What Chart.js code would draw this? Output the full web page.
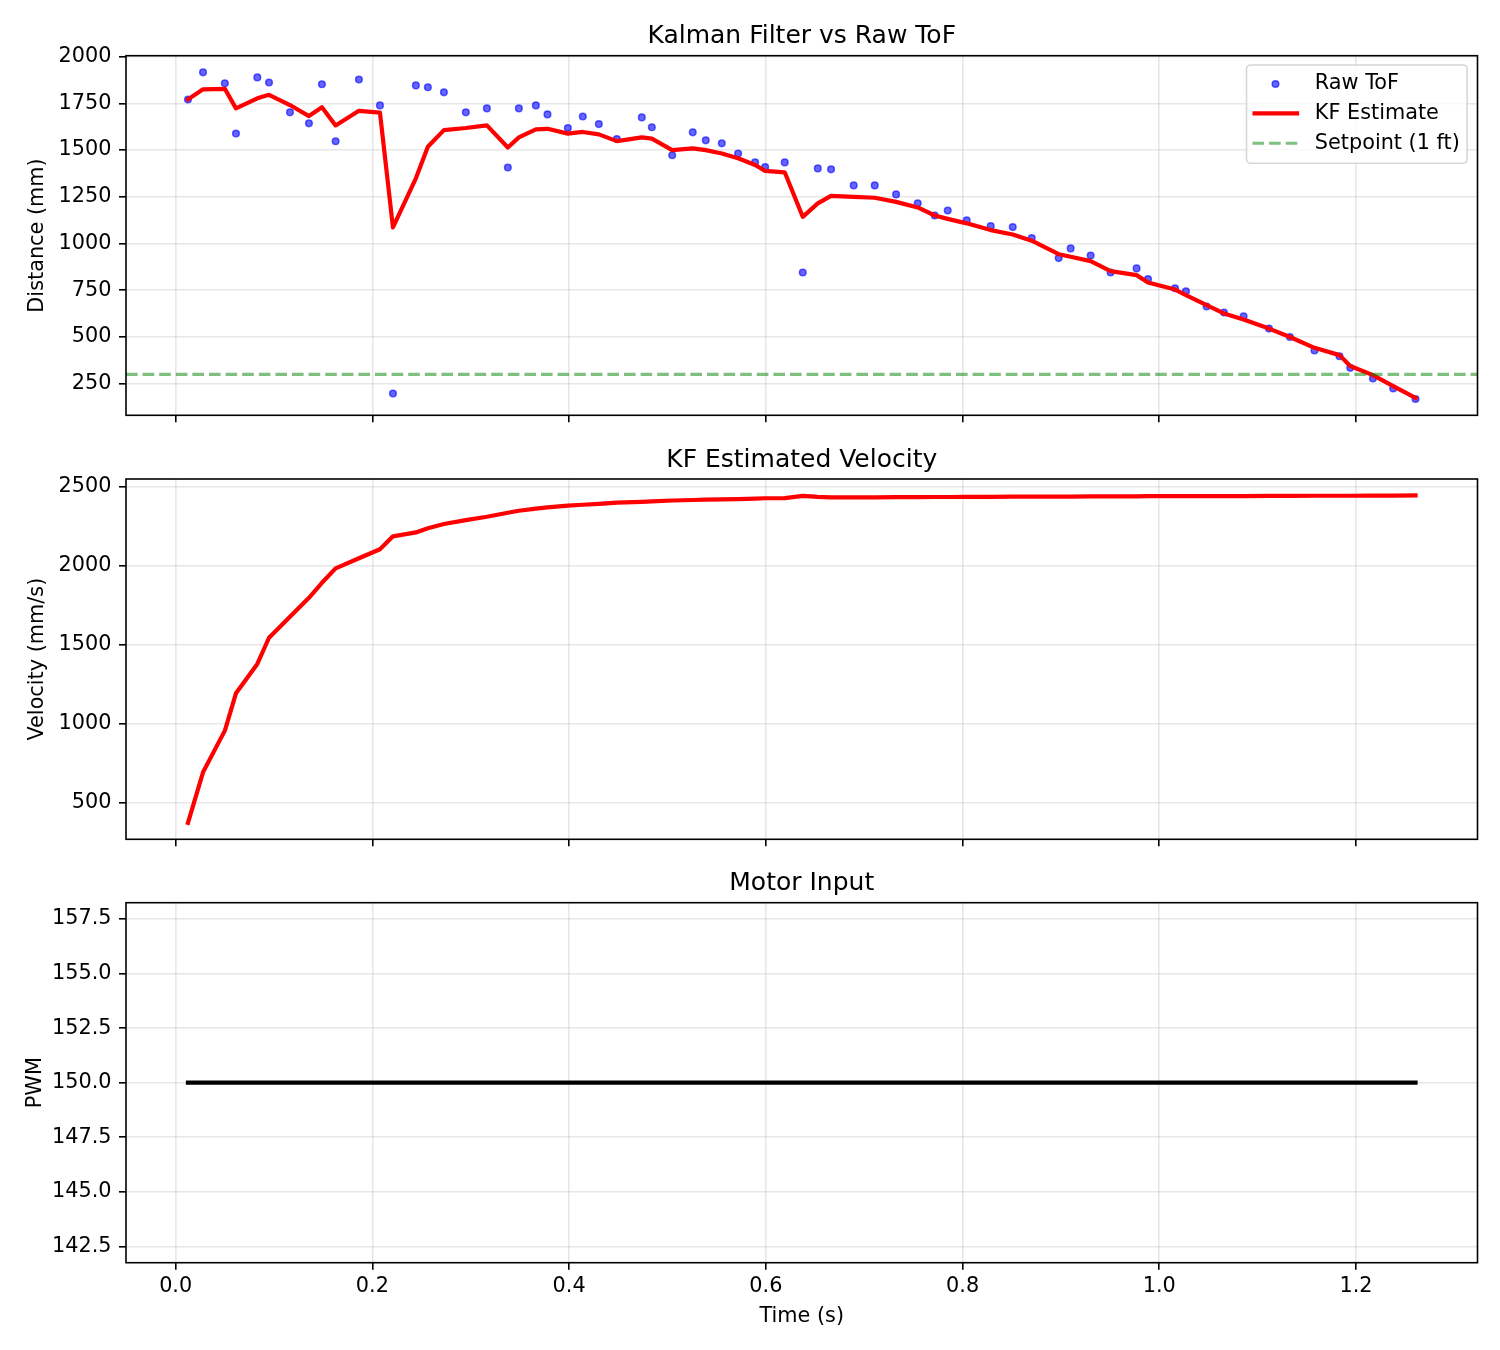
<!DOCTYPE html>
<html>
<head>
<meta charset="utf-8">
<script src="https://cdn.jsdelivr.net/npm/chart.js@4.4.1/dist/chart.umd.min.js"></script>
<style>
  html, body { margin: 0; padding: 0; background: #fff; }
  #wrap { position: relative; width: 1500px; height: 1350px; background: #fff; }
  #wrap canvas { position: absolute; left: 0; top: 0; width: 1500px; height: 1350px; }
</style>
</head>
<body>
<div id="wrap">
  <canvas id="c1" width="1500" height="1350"></canvas>
  <canvas id="c2" width="1500" height="1350"></canvas>
  <canvas id="c3" width="1500" height="1350"></canvas>
</div>
<script>
// ---------------- DATA ----------------
const time = [
  0.0125, 0.0278, 0.0500, 0.0613, 0.0830, 0.0949, 0.1162, 0.1355, 0.1487, 0.1626,
  0.1863, 0.2077, 0.2209, 0.2442, 0.2564, 0.2727, 0.2950, 0.3164, 0.3377, 0.3489,
  0.3662, 0.3780, 0.3987, 0.4139, 0.4302, 0.4485, 0.4739, 0.4841, 0.5048, 0.5257,
  0.5389, 0.5552, 0.5718, 0.5891, 0.5993, 0.6192, 0.6375, 0.6528, 0.6663, 0.6893,
  0.7107, 0.7324, 0.7544, 0.7717, 0.7849, 0.8042, 0.8286, 0.8510, 0.8703, 0.8977,
  0.9099, 0.9302, 0.9505, 0.9769, 0.9885, 1.0160, 1.0271, 1.0481, 1.0657, 1.0857,
  1.1115, 1.1328, 1.1578, 1.1832, 1.1941, 1.2172, 1.2378, 1.2605
];
const rawTof = [
  1771, 1916, 1857, 1589, 1889, 1862, 1702, 1643, 1852, 1547,
  1878, 1739, 198, 1846, 1836, 1809, 1702, 1723, 1407, 1723,
  1739, 1691, 1618, 1680, 1639, 1559, 1675, 1622, 1472, 1595,
  1552, 1536, 1482, 1434, 1409, 1434, 845, 1402, 1397, 1311,
  1311, 1263, 1215, 1150, 1177, 1124, 1093, 1088, 1029, 922,
  974, 936, 845, 867, 810, 761, 745, 663, 631, 611,
  545, 500, 428, 397, 335, 278, 224, 168
];
const kfDistance = [
  1771, 1825, 1828, 1723, 1777, 1796, 1741, 1682, 1729, 1632,
  1710, 1700, 1086, 1349, 1518, 1607, 1618, 1632, 1514, 1568,
  1611, 1614, 1588, 1597, 1584, 1548, 1568, 1561, 1500, 1509,
  1500, 1482, 1456, 1420, 1389, 1381, 1143, 1215, 1255, 1250,
  1245, 1223, 1193, 1150, 1132, 1108, 1072, 1048, 1015, 943,
  929, 906, 852, 831, 792, 754, 724, 670, 626, 594,
  545, 500, 442, 403, 345, 296, 237, 174
];
const kfVelocity = [
  372, 692, 956, 1192, 1378, 1544, 1677, 1797, 1892, 1983,
  2047, 2104, 2186, 2211, 2237, 2264, 2289, 2310, 2335, 2348,
  2361, 2369, 2380, 2386, 2392, 2399, 2404, 2407, 2413, 2416,
  2418, 2420, 2422, 2425, 2427, 2428, 2442, 2436, 2433, 2433,
  2433, 2434, 2434, 2435, 2435, 2436, 2436, 2437, 2437, 2438,
  2438, 2439, 2439, 2439, 2440, 2440, 2440, 2441, 2441, 2441,
  2442, 2442, 2443, 2443, 2443, 2444, 2444, 2445
];
const pwm = [
  150, 150, 150, 150, 150, 150, 150, 150, 150, 150,
  150, 150, 150, 150, 150, 150, 150, 150, 150, 150,
  150, 150, 150, 150, 150, 150, 150, 150, 150, 150,
  150, 150, 150, 150, 150, 150, 150, 150, 150, 150,
  150, 150, 150, 150, 150, 150, 150, 150, 150, 150,
  150, 150, 150, 150, 150, 150, 150, 150, 150, 150,
  150, 150, 150, 150, 150, 150, 150, 150
];
const setpointMm = 300;

const xTicks = [0.0, 0.2, 0.4, 0.6, 0.8, 1.0, 1.2];
const distTicks = [250, 500, 750, 1000, 1250, 1500, 1750, 2000];
const velTicks = [500, 1000, 1500, 2000, 2500];
const pwmTicks = [142.5, 145.0, 147.5, 150.0, 152.5, 155.0, 157.5];

const xRange = [-0.0505, 1.3235];
const distRange = [81, 2005];
const velRange = [268, 2549];
const pwmRange = [141.75, 158.25];

const titles = ['Kalman Filter vs Raw ToF', 'KF Estimated Velocity', 'Motor Input'];
const legendLabels = ['Raw ToF', 'KF Estimate', 'Setpoint (1 ft)'];

// ---------------- STYLE ----------------
const FONT = 'DejaVu Sans';
Chart.defaults.font.family = FONT;
Chart.defaults.font.size = 20.8;
Chart.defaults.color = '#000';

const GRID = {
  color: 'rgba(176,176,176,0.3)', lineWidth: 1.6,
  drawTicks: true, tickLength: 7, tickColor: '#000', tickWidth: 1.6
};
const RAW_COLOR = 'rgba(0,0,255,0.6)';
const SET_COLOR = 'rgba(0,128,0,0.5)';
const DASH = [11.6, 5];

function pts(ys) { return time.map((t, i) => ({ x: t, y: ys[i] })); }

function xScale(showLabels) {
  return {
    type: 'linear', min: xRange[0], max: xRange[1],
    afterBuildTicks: s => { s.ticks = xTicks.map(v => ({ value: v })); },
    afterFit: s => { s.height = showLabels ? 66 : 10; },
    border: { display: false },
    grid: GRID,
    ticks: { display: showLabels, padding: 4.6, maxRotation: 0, minRotation: 0, autoSkip: false,
             callback: v => Number(v).toFixed(1) },
    title: { display: showLabels, text: 'Time (s)', padding: { top: 0, bottom: 0 } }
  };
}
function yScale(range, ticks, fmt, label, titlePad) {
  return {
    type: 'linear', position: 'left', min: range[0], max: range[1],
    afterBuildTicks: s => { s.ticks = ticks.map(v => ({ value: v })); },
    afterFit: s => { s.width = 126; },
    border: { display: false },
    grid: GRID,
    ticks: { padding: 7.5, autoSkip: false, callback: fmt },
    title: { display: true, text: label, padding: { top: titlePad, bottom: 0 } }
  };
}

const framePlugin = {
  id: 'frame',
  afterDraw(chart, args, opts) {
    const { ctx, chartArea: a } = chart;
    ctx.save();
    ctx.strokeStyle = '#000';
    ctx.lineWidth = 1.6;
    ctx.strokeRect(a.left, a.top, a.right - a.left, a.bottom - a.top);
    ctx.fillStyle = '#000';
    ctx.font = '25px "' + FONT + '"';
    ctx.textAlign = 'center';
    ctx.textBaseline = 'alphabetic';
    ctx.fillText(opts.text, (a.left + a.right) / 2, a.top - 12.4);
    ctx.restore();
  }
};

const legendPlugin = {
  id: 'boxLegend',
  afterDraw(chart) {
    const { ctx, chartArea: a } = chart;
    const x0 = a.right - 231, y0 = a.top + 9.3, w = 220.6, h = 98.3;
    ctx.save();
    ctx.beginPath();
    ctx.roundRect(x0, y0, w, h, 4);
    ctx.fillStyle = 'rgba(255,255,255,0.8)';
    ctx.fill();
    ctx.strokeStyle = 'rgba(204,204,204,0.8)';
    ctx.lineWidth = 1.6;
    ctx.stroke();
    const hx0 = x0 + 6, hx1 = x0 + 52.6, tx = x0 + 68.3;
    const rows = [y0 + 19, y0 + 48.3, y0 + 78.3];
    // marker
    ctx.beginPath();
    ctx.arc((hx0 + hx1) / 2 - 0.3, rows[0], 3.3, 0, Math.PI * 2);
    ctx.fillStyle = RAW_COLOR; ctx.fill();
    ctx.strokeStyle = RAW_COLOR; ctx.lineWidth = 1.5; ctx.stroke();
    // red line
    ctx.beginPath();
    ctx.moveTo(hx0, rows[1]); ctx.lineTo(hx1, rows[1]);
    ctx.strokeStyle = '#ff0000'; ctx.lineWidth = 4.2; ctx.lineCap = 'butt'; ctx.stroke();
    // dashed green
    ctx.beginPath();
    ctx.setLineDash(DASH);
    ctx.moveTo(hx0, rows[2]); ctx.lineTo(hx1, rows[2]);
    ctx.strokeStyle = SET_COLOR; ctx.lineWidth = 3.1; ctx.stroke();
    ctx.setLineDash([]);
    // text
    ctx.fillStyle = '#000';
    ctx.font = '20.8px "' + FONT + '"';
    ctx.textAlign = 'left';
    ctx.textBaseline = 'middle';
    legendLabels.forEach((t, i) => ctx.fillText(t, tx, rows[i]));
    ctx.restore();
  }
};

function baseOptions(padTop, padBottom, scales, titleText) {
  return {
    responsive: false, animation: false, events: [],
    layout: { padding: { left: 0, right: 22.5, top: padTop, bottom: padBottom } },
    plugins: { legend: { display: false }, tooltip: { enabled: false }, frame: { text: titleText } },
    scales
  };
}

// ---------- Chart 1: distance ----------
new Chart(document.getElementById('c1'), {
  type: 'line',
  data: {
    datasets: [
      { label: legendLabels[2], data: [{ x: xRange[0], y: setpointMm }, { x: xRange[1], y: setpointMm }],
        borderColor: SET_COLOR, borderWidth: 3.1, borderDash: DASH, borderCapStyle: 'butt',
        pointRadius: 0, order: 0 },
      { label: legendLabels[1], data: pts(kfDistance), borderColor: '#ff0000', borderWidth: 4.2,
        borderJoinStyle: 'round', borderCapStyle: 'square', pointRadius: 0, tension: 0, order: 1 },
      { label: legendLabels[0], data: pts(rawTof), showLine: false,
        pointRadius: 3.3, pointBorderWidth: 1.5, pointBackgroundColor: RAW_COLOR,
        pointBorderColor: RAW_COLOR, backgroundColor: RAW_COLOR, borderColor: RAW_COLOR, order: 2 }
    ]
  },
  options: baseOptions(55.7, 1350 - 415.3 - 10, {
    x: xScale(false),
    y: yScale(distRange, distTicks, v => String(v), 'Distance (mm)', 25.3)
  }, titles[0]),
  plugins: [framePlugin, legendPlugin]
});

// ---------- Chart 2: velocity ----------
new Chart(document.getElementById('c2'), {
  type: 'line',
  data: {
    datasets: [
      { label: 'KF Velocity', data: pts(kfVelocity), borderColor: '#ff0000', borderWidth: 4.2,
        borderJoinStyle: 'round', borderCapStyle: 'square', pointRadius: 0, tension: 0 }
    ]
  },
  options: baseOptions(479, 1350 - 839.3 - 10, {
    x: xScale(false),
    y: yScale(velRange, velTicks, v => String(v), 'Velocity (mm/s)', 25.3)
  }, titles[1]),
  plugins: [framePlugin]
});

// ---------- Chart 3: motor input ----------
new Chart(document.getElementById('c3'), {
  type: 'line',
  data: {
    datasets: [
      { label: 'PWM', data: pts(pwm), borderColor: '#000000', borderWidth: 4.2,
        borderJoinStyle: 'round', borderCapStyle: 'square', pointRadius: 0, tension: 0 }
    ]
  },
  options: baseOptions(902.7, 1350 - 1262.7 - 66, {
    x: xScale(true),
    y: yScale(pwmRange, pwmTicks, v => Number(v).toFixed(1), 'PWM', 23)
  }, titles[2]),
  plugins: [framePlugin]
});
</script>
</body>
</html>
